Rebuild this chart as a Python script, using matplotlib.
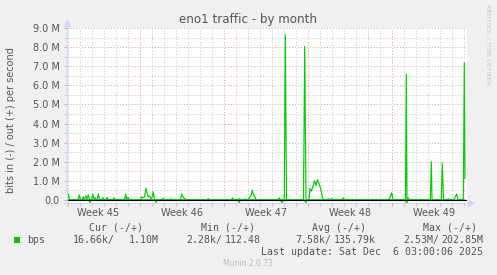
import numpy as np
import matplotlib.pyplot as plt
from matplotlib.patches import Rectangle
from matplotlib.transforms import blended_transform_factory

W, H = 497, 275

# hours since Monday 00:00 of week 45, values in Mbit/s
out_hours = [22, 24.6, 27, 44, 46.6, 49, 53, 54.6, 56, 60, 62, 64.6, 67, 71, 73.4, 76, 78, 80,
             82, 84.6, 87, 92, 94, 96, 100, 102, 104, 114, 116, 118, 137, 139.4, 141, 144, 146,
             169, 171.4, 174, 177, 180, 183, 185, 187, 190, 192, 194.6, 197, 212, 214.6, 217,
             227, 229.4, 231, 249, 251.4, 253, 255, 258, 260, 302, 304.6, 306, 351, 353.4, 355,
             364, 366.6, 368, 376, 378, 380, 384, 388, 390, 392.6, 395, 397, 400, 444, 446.6,
             449, 456.6, 458.6, 461, 495, 497.4, 500, 506, 508, 511, 514, 517, 520, 523, 526,
             529, 533, 535, 542, 544.6, 547, 549, 551.4, 553, 572, 574.6, 577, 666, 671.4, 674,
             699, 700.6, 702, 702.6, 704.6, 706, 748.6, 750.6, 752, 770.6, 772.6, 775, 782,
             784.6, 787, 796, 801.4, 804, 814.6, 816.6, 818]
out_mbps = [0, 0.3, 0, 0, 0.25, 0, 0, 0.15, 0, 0.2, 0.05, 0.25, 0, 0, 0.3, 0.05, 0.1, 0,
            0, 0.3, 0, 0, 0.1, 0, 0, 0.12, 0, 0, 0.1, 0, 0, 0.3, 0.05, 0.12, 0,
            0, 0.15, 0.1, 0.15, 0.6, 0.25, 0.15, 0.2, 0.05, 0.1, 0.42, 0, 0, 0.08, 0,
            0, 0.05, 0, 0, 0.3, 0.2, 0.1, 0.05, 0, 0, 0.06, 0, 0, 0.1, 0,
            0, 0.06, 0, 0, 0.05, 0, 0, 0.15, 0.2, 0.5, 0.25, 0.2, 0, 0, 0.1,
            0, 0, 8.66, 0, 0, 8.06, 0, 0, 0.6, 0.45, 0.7, 1.0, 0.75, 1.05, 0.85,
            0.6, 0.1, 0, 0, 0.05, 0, 0, 0.06, 0, 0, 0.1, 0, 0, 0.36, 0,
            0, 6.59, 0, 0, 0.1, 0, 0, 2.0, 0, 0, 1.92, 0, 0,
            0.05, 0, 0, 0.3, 0, 0, 7.2, 1.12]

in_hours = [22, 66, 68, 70, 198, 200, 202, 364, 366.6, 369, 448, 452, 455,
            496, 500, 502, 699, 701.4, 703, 818]
in_mbps = [0, 0, -0.15, 0, 0, -0.15, 0, 0, -0.15, 0,
           0, -0.15, 0, 0, -0.15, 0, 0, -0.2, 0, -0.02]

week_bounds = [168, 336, 504, 672]
week_mid = [84, 252, 420, 588, 756]
week_labels = ['Week 45', 'Week 46', 'Week 47', 'Week 48', 'Week 49']
y_ticks = [0, 1, 2, 3, 4, 5, 6, 7, 8, 9]
y_labels = ['0.0', '1.0 M', '2.0 M', '3.0 M', '4.0 M', '5.0 M', '6.0 M', '7.0 M', '8.0 M', '9.0 M']

legend_head = ['Cur (-/+)', 'Min (-/+)', 'Avg (-/+)', 'Max (-/+)']
legend_in = ['16.66k/', '2.28k/', '7.58k/', '2.53M/']
legend_out = ['1.10M', '112.48', '135.79k', '202.85M']

GREEN = '#00CC00'
TXT = '#555555'
AXIS = '#CFD6F8'
MGRID = '#E89A9A'
GRID = '#C4C4C4'


def fx(x):
    return x / W


def fy(y):
    return 1 - y / H


fig = plt.figure(figsize=(W / 100, H / 100), dpi=100, facecolor='#F0F0F0')
ax = fig.add_axes([fx(67), fy(203.3), 400 / W, 175 / H])
ax.set_facecolor('white')

ax.plot(out_hours, out_mbps, color=GREEN, lw=0.85, zorder=3)
ax.plot(in_hours, in_mbps, color=GREEN, lw=0.85, zorder=3)
ax.axhline(0, color='black', lw=0.8, zorder=4)

ax.set_xlim(22, 822)
ax.set_ylim(-0.19, 9.0)

# grid
for d in range(24, 822, 24):
    if d not in week_bounds:
        ax.axvline(d, color=GRID, lw=0.7, ls=(0, (1, 2)), zorder=1)
for w in week_bounds:
    ax.axvline(w, color=MGRID, lw=0.7, ls=(0, (1, 2)), zorder=1)
for v in np.arange(0.5, 9.0, 1.0):
    ax.axhline(v, color=GRID, lw=0.7, ls=(0, (1, 2)), zorder=1)
for v in y_ticks[1:]:
    ax.axhline(v, color=MGRID, lw=0.7, ls=(0, (1, 2)), zorder=1)

for s in ax.spines.values():
    s.set_visible(False)

ax.set_yticks(y_ticks)
ax.set_yticklabels(y_labels, fontsize=7, color=TXT)
ax.set_yticks(np.arange(0.5, 9.0, 1.0), minor=True)
ax.tick_params(axis='y', which='both', length=2, width=0.7, pad=3, color=MGRID)
ax.tick_params(axis='y', which='minor', color=GRID)

ax.set_xticks(week_bounds)
ax.set_xticklabels([])
ax.set_xticks([d for d in range(24, 822, 24) if d not in week_bounds], minor=True)
ax.tick_params(axis='x', which='both', length=2, width=0.7, color=MGRID)
ax.tick_params(axis='x', which='minor', color=GRID)

tr = blended_transform_factory(ax.transData, ax.transAxes)
for xm, lab in zip(week_mid, week_labels):
    ax.text(xm, -0.055, lab, transform=tr, ha='center', va='center', fontsize=7, color=TXT)

# axis lines with arrows
ax.plot([0, 0], [-0.015, 1.025], color=AXIS, lw=0.8, transform=ax.transAxes, clip_on=False, zorder=5)
ax.plot([0], [1.028], marker='^', ms=4, color=AXIS, transform=ax.transAxes, clip_on=False, zorder=5)
ax.plot([-0.008, 1.005], [0, 0], color=AXIS, lw=0.8, transform=ax.transAxes, clip_on=False, zorder=5)
ax.plot([1.01], [0], marker='>', ms=4, color=AXIS, transform=ax.transAxes, clip_on=False, zorder=5)

fig.text(fx(248), fy(19), 'eno1 traffic - by month', ha='center', va='center', fontsize=8.6, color=TXT)
fig.text(fx(11), fy(120), 'bits in (-) / out (+) per second', rotation=90,
         ha='center', va='center', fontsize=7, color=TXT)
fig.text(fx(488), fy(4), 'RRDTOOL / TOBI OETIKER', rotation=270, ha='center', va='top',
         fontsize=4.5, color='#C4C4C4')

# legend
mono = 'DejaVu Sans Mono'
fig.add_artist(Rectangle((fx(14), fy(243)), 6 / W, 6 / H, transform=fig.transFigure,
                         facecolor=GREEN, edgecolor='none'))
fig.text(fx(26.7), fy(240), 'bps', ha='left', va='center', fontsize=7.1, family=mono, color=TXT)
for x, s in zip([89, 201, 311.7, 422.7], legend_head):
    fig.text(fx(x), fy(228), s, ha='left', va='center', fontsize=7.1, family=mono, color=TXT)
for x, s in zip([72.7, 186, 295, 403.3], legend_in):
    fig.text(fx(x), fy(240), s, ha='left', va='center', fontsize=7.1, family=mono, color=TXT)
for x, s in zip([128.3, 225, 333.3, 441], legend_out):
    fig.text(fx(x), fy(240), s, ha='left', va='center', fontsize=7.1, family=mono, color=TXT)
fig.text(fx(261), fy(252), 'Last update: Sat Dec  6 03:00:06 2025', ha='left', va='center',
         fontsize=7.1, family=mono, color=TXT)
fig.text(fx(248), fy(263.5), 'Munin 2.0.73', ha='center', va='center', fontsize=5.5, color='#BBBBBB')

fig.savefig('out.png', dpi=100, facecolor=fig.get_facecolor())
